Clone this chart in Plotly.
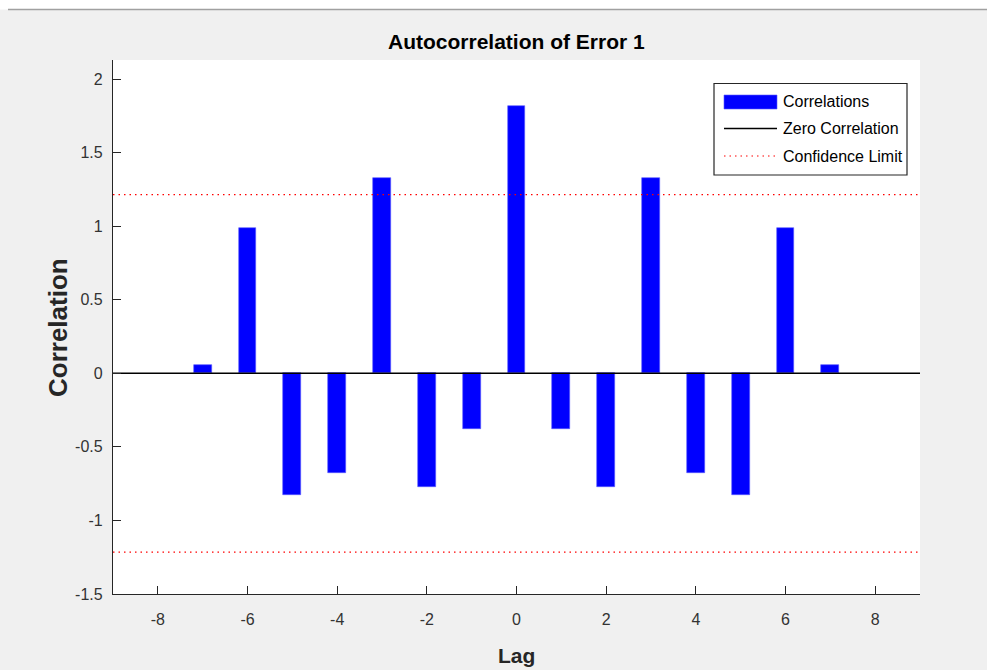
import plotly.graph_objects as go

# ---- data ----
lags = [-7, -6, -5, -4, -3, -2, -1, 0, 1, 2, 3, 4, 5, 6, 7]
correlations = [0.055, 0.99, -0.825, -0.675, 1.33, -0.77, -0.38, 1.82,
                -0.38, -0.77, 1.33, -0.675, -0.825, 0.99, 0.055]
confidence_limit = 1.215
x_range = [-9, 9]
y_range = [-1.5, 2.13]
x_ticks = [-8, -6, -4, -2, 0, 2, 4, 6, 8]
x_tick_labels = ["-8", "-6", "-4", "-2", "0", "2", "4", "6", "8"]
y_ticks = [-1.5, -1, -0.5, 0, 0.5, 1, 1.5, 2]
y_tick_labels = ["-1.5", "-1", "-0.5", "0", "0.5", "1", "1.5", "2"]
title_text = "Autocorrelation of Error 1"
legend_labels = ["Correlations", "Zero Correlation", "Confidence Limit"]

W, H = 987, 670
L, R, T, B = 113, 67, 60, 76
PW, PH = W - L - R, H - T - B

def px(xp):
    return (xp - L) / PW

def py(yp):
    return (H - B - yp) / PH

FONT = "Liberation Sans, Arial, sans-serif"
AX = "#262626"

fig = go.Figure()
fig.add_trace(go.Bar(x=lags, y=correlations, width=0.4,
                     marker=dict(color="#0000ff", line=dict(color="#5a5aff", width=0.6)),
                     name=legend_labels[0], showlegend=False))
fig.add_trace(go.Scatter(x=x_range, y=[0, 0], mode="lines",
                         line=dict(color="black", width=1.5),
                         name=legend_labels[1], showlegend=False))
fig.add_trace(go.Scatter(x=[x_range[0], x_range[1], None, x_range[0], x_range[1]],
                         y=[confidence_limit, confidence_limit, None,
                            -confidence_limit, -confidence_limit],
                         mode="lines",
                         line=dict(color="red", width=1.2, dash="1.5px,4px"),
                         name=legend_labels[2], showlegend=False))

shapes = [
    # top white strip and separator
    dict(type="rect", xref="paper", yref="paper", x0=px(-2), x1=px(W + 2),
         y0=py(9.5), y1=py(-2), fillcolor="white", line=dict(width=0), layer="below"),
    dict(type="line", xref="paper", yref="paper", x0=px(8), x1=px(W + 2),
         y0=py(9.5), y1=py(9.5), line=dict(color="#a0a0a0", width=1.5)),
    # legend box
    dict(type="rect", xref="paper", yref="paper", x0=px(714), x1=px(907),
         y0=py(175), y1=py(83.5), fillcolor="white", line=dict(color=AX, width=1.2)),
    dict(type="rect", xref="paper", yref="paper", x0=px(724), x1=px(777),
         y0=py(109), y1=py(95), fillcolor="#0000ff", line=dict(color="#5a5aff", width=0.6)),
    dict(type="line", xref="paper", yref="paper", x0=px(724), x1=px(777),
         y0=py(128.5), y1=py(128.5), line=dict(color="black", width=1.5)),
    dict(type="line", xref="paper", yref="paper", x0=px(724), x1=px(777),
         y0=py(156), y1=py(156), line=dict(color="red", width=1.2, dash="1.5px,4px")),
]

annotations = [
    dict(text="<b>" + title_text + "</b>", xref="paper", yref="paper", x=0.5, y=py(42),
         xanchor="center", yanchor="middle", showarrow=False,
         font=dict(family=FONT, size=21, color="black")),
    dict(text="<b>Lag</b>", xref="paper", yref="paper", x=0.5, y=py(655),
         xanchor="center", yanchor="middle", showarrow=False,
         font=dict(family=FONT, size=21, color=AX)),
    dict(text="<b>Correlation</b>", xref="paper", yref="paper", x=px(57.5), y=py(327.5),
         xanchor="center", yanchor="middle", showarrow=False, textangle=-90,
         font=dict(family=FONT, size=26, color=AX)),
]
for lab, yy in zip(legend_labels, [102, 128.5, 156]):
    annotations.append(dict(text=lab, xref="paper", yref="paper", x=px(781), y=py(yy),
                            xanchor="left", yanchor="middle", showarrow=False,
                            font=dict(family=FONT, size=16, color="black")))

fig.update_layout(
    width=W, height=H,
    margin=dict(l=L, r=R, t=T, b=B, pad=0),
    paper_bgcolor="#f0f0f0", plot_bgcolor="white",
    showlegend=False, bargap=0,
    shapes=shapes, annotations=annotations,
    xaxis=dict(range=x_range, tickvals=x_ticks, ticktext=x_tick_labels,
               ticks="inside", ticklen=8, tickcolor=AX, tickwidth=1,
               showline=True, linecolor=AX, linewidth=1.2, mirror=False,
               showgrid=False, zeroline=False, ticklabelstandoff=11,
               tickfont=dict(family=FONT, size=16, color="#333333")),
    yaxis=dict(range=y_range, tickvals=y_ticks, ticktext=y_tick_labels,
               ticks="inside", ticklen=8, tickcolor=AX, tickwidth=1,
               showline=True, linecolor=AX, linewidth=1.2, mirror=False,
               showgrid=False, zeroline=False, ticklabelstandoff=6,
               tickfont=dict(family=FONT, size=16, color="#333333")),
)

fig.write_html(
    "out.html",
    config={"displayModeBar": False},
    post_script="document.documentElement.style.margin='0';"
                "document.body.style.margin='0';"
                "document.body.style.overflow='hidden';",
)
